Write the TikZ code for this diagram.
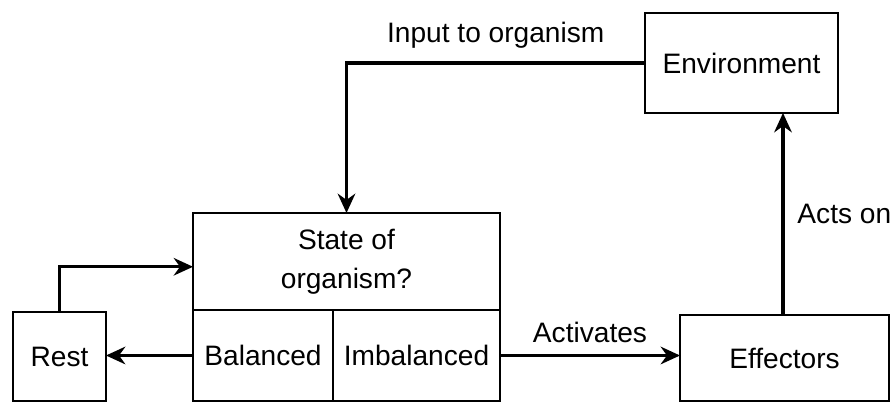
\documentclass[tikz,border=0pt]{standalone}
\usepackage{fontspec}
\setmainfont{Liberation Sans}
\usepackage{tikz}
\usetikzlibrary{arrows.meta,positioning}

\begin{document}
\begin{tikzpicture}[x=0.02cm, y=-0.02cm,
    font=\fontsize{16}{19}\selectfont,
    box/.style={draw, rectangle, line width=1.1pt, inner sep=2pt, outer sep=0pt, align=center},
    flow/.style={line width=1.8pt, -{Stealth[length=11pt, width=10pt]}}]
    \useasboundingbox (0,0) rectangle (894,404);

    \node[box, minimum width=3.86cm, minimum height=2.0cm] (env) at (741.5,63) {Environment};
    \node[box, minimum width=6.14cm, minimum height=1.94cm, font=\fontsize{16}{22}\selectfont] (state) at (346.5,261.5) {State of\\organism?};
    \node[box, minimum width=2.8cm, minimum height=1.82cm] (bal) at (263,355.5) {Balanced};
    \node[box, minimum width=3.34cm, minimum height=1.82cm] (imbal) at (416.5,355.5) {Imbalanced};
    \node[box, minimum width=1.86cm, minimum height=1.78cm] (rest) at (59.5,356.5) {Rest};
    \node[box, minimum width=4.18cm, minimum height=1.72cm] (eff) at (784.5,358) {Effectors};

    \draw[flow] (env.west) -| node[pos=0.25, above=4pt] {Input to organism} (state.north);
    \draw[flow] (eff.north -| 783,0) -- node[right=4pt] {Acts on} (env.south -| 783,0);
    \draw[flow] (imbal.east) -- node[above=3pt] {Activates} (imbal.east -| eff.west);
    \draw[flow] (bal.west) -- (bal.west -| rest.east);
    \draw[flow] (rest.north) |- ([yshift=-3pt]state.west);
\end{tikzpicture}
\end{document}
